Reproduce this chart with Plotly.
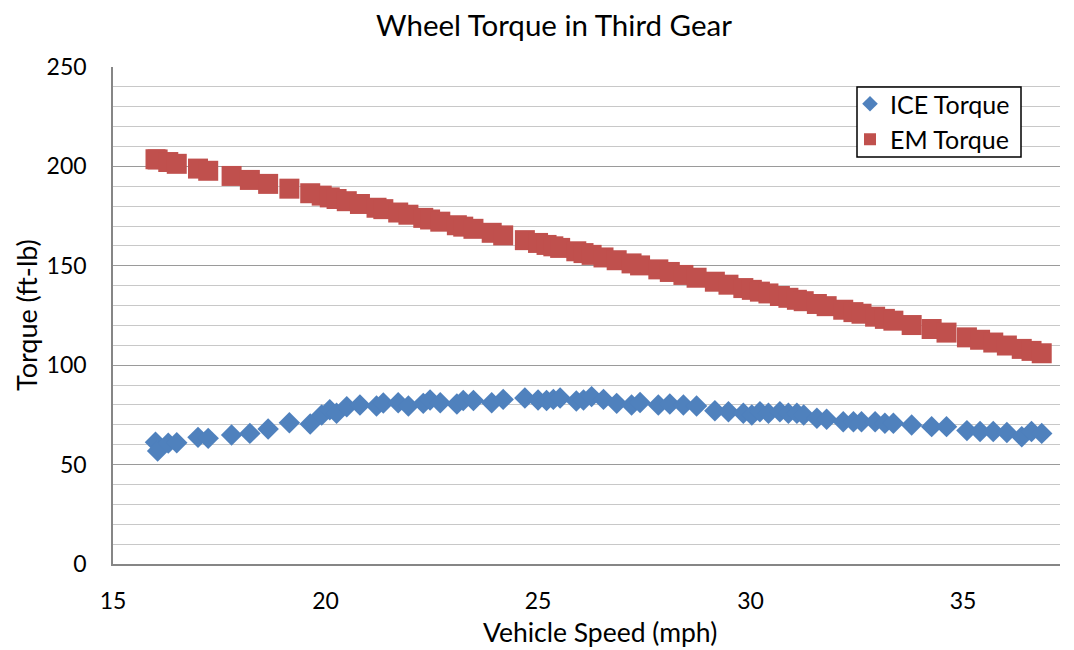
import plotly.graph_objects as go

speed_mph = [16.00, 16.05, 16.30, 16.50, 17.00, 17.24, 17.79, 18.22, 18.65, 19.15,
             19.64, 19.91, 20.10, 20.26, 20.50, 20.81, 21.20, 21.36, 21.71, 21.95,
             22.30, 22.46, 22.70, 23.09, 23.24, 23.48, 23.91, 24.18, 24.69, 25.00,
             25.20, 25.36, 25.52, 25.90, 26.07, 26.26, 26.54, 26.85, 27.20, 27.40,
             27.83, 28.10, 28.42, 28.73, 29.16, 29.48, 29.83, 30.03, 30.22, 30.42,
             30.69, 30.89, 31.09, 31.25, 31.56, 31.79, 32.18, 32.42, 32.61, 32.93,
             33.16, 33.36, 33.79, 34.26, 34.61, 35.09, 35.40, 35.71, 36.03, 36.38,
             36.61, 36.85]

ice_torque = [61.2, 56.8, 60.8, 61.0, 63.7, 63.2, 64.9, 65.7, 67.9, 71.1,
              70.4, 75.0, 77.6, 75.8, 79.1, 80.0, 79.5, 81.0, 81.1, 79.5,
              80.8, 82.5, 81.1, 80.5, 82.2, 82.2, 81.1, 82.8, 83.5, 82.5,
              82.2, 82.8, 83.5, 82.0, 82.5, 84.2, 82.8, 80.8, 80.0, 81.2,
              80.0, 80.5, 80.0, 79.5, 77.1, 76.6, 75.8, 75.0, 76.6, 75.8,
              76.6, 75.8, 75.8, 75.0, 73.3, 72.8, 71.6, 71.6, 71.6, 71.6,
              70.8, 70.8, 69.9, 69.1, 69.1, 67.1, 66.6, 66.6, 66.1, 64.0,
              66.6, 65.7]

em_torque = [203.6, 203.5, 202.2, 201.3, 198.9, 197.8, 195.2, 193.2, 191.2, 188.8,
             186.5, 185.3, 184.4, 183.6, 182.5, 181.1, 179.2, 178.5, 176.8, 175.7,
             174.1, 173.3, 172.2, 170.4, 169.7, 168.6, 166.6, 165.3, 162.9, 161.5,
             160.5, 159.8, 159.0, 157.3, 156.4, 155.5, 154.2, 152.8, 151.2, 150.2,
             148.2, 146.9, 145.4, 144.0, 142.0, 140.5, 138.8, 137.9, 137.0, 136.1,
             134.8, 133.9, 132.9, 132.2, 130.8, 129.7, 127.9, 126.7, 125.9, 124.4,
             123.3, 122.4, 120.2, 118.2, 116.4, 114.0, 112.8, 111.4, 109.9, 108.2,
             107.2, 106.0]

x_ticks = [15, 20, 25, 30, 35]
y_ticks = [0, 50, 100, 150, 200, 250]

FONT = "Lato"
W, H = 1074, 650
L, R, T, B = 113, 14, 67, 86
PW, PH = W - L - R, H - T - B


def px_x(p):
    return (p - L) / PW


def px_y(p):
    return (H - B - p) / PH


fig = go.Figure()
fig.add_trace(go.Scatter(
    x=speed_mph, y=ice_torque, mode="markers", name="ICE Torque",
    marker=dict(symbol="diamond", size=16.5, color="#4F81BD", line=dict(width=0)),
))
fig.add_trace(go.Scatter(
    x=speed_mph, y=em_torque, mode="markers", name="EM Torque",
    marker=dict(symbol="square", size=20, color="#C0504D", line=dict(width=0)),
))

fig.update_layout(
    width=W, height=H,
    margin=dict(l=L, r=R, t=T, b=B, autoexpand=False),
    paper_bgcolor="white", plot_bgcolor="white",
    font=dict(family=FONT, color="black", size=23),
    title=dict(text="Wheel Torque in Third Gear", x=554 / W, xanchor="center",
               xref="container", y=1 - 26 / H, yanchor="middle",
               font=dict(size=29.5, family=FONT)),
    showlegend=True,
    legend=dict(x=px_x(850), y=px_y(81), xanchor="left", yanchor="top",
                borderwidth=0, bgcolor="rgba(0,0,0,0)",
                font=dict(size=25, family=FONT), tracegroupgap=0,
                itemsizing="constant"),
    xaxis=dict(range=[15, 37.28], tickvals=x_ticks, showgrid=False, zeroline=False,
               showline=True, linecolor="#868686", linewidth=1.5, automargin=False,
               ticks="outside", ticklen=16, tickcolor="rgba(0,0,0,0)",
               tickfont=dict(size=23)),
    yaxis=dict(range=[0, 250], tickvals=y_ticks, showgrid=True, gridcolor="#9a9a9a",
               gridwidth=1.2, zeroline=False, showline=True, linecolor="#868686",
               linewidth=1.5, automargin=False, ticks="outside", ticklen=20,
               tickcolor="rgba(0,0,0,0)", tickfont=dict(size=23),
               minor=dict(dtick=10, showgrid=True, gridcolor="#c8c8c8", gridwidth=1)),
    shapes=[
        dict(type="rect", xref="paper", yref="paper", layer="above",
             x0=px_x(857), x1=px_x(1021), y0=px_y(157), y1=px_y(87),
             fillcolor="white", line=dict(color="black", width=1.5)),
    ],
    annotations=[
        dict(text="Vehicle Speed (mph)", xref="paper", yref="paper",
             x=px_x(600), y=px_y(632),
             xanchor="center", yanchor="middle", showarrow=False,
             font=dict(size=26.5, family=FONT)),
        dict(text="Torque (ft-lb)", xref="paper", yref="paper",
             x=px_x(26), y=px_y(315),
             xanchor="center", yanchor="middle", showarrow=False, textangle=-90,
             font=dict(size=27, family=FONT)),
    ],
)

fig.write_html("out.html", config={"displayModeBar": False},
               post_script="document.body.style.margin='0';document.body.style.padding='0';")
